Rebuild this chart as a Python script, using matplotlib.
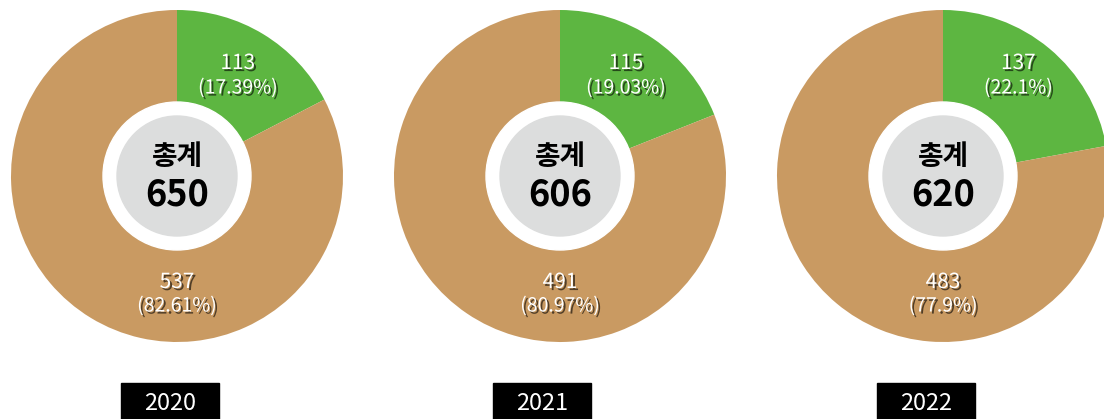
import matplotlib
matplotlib.use('Agg')
import matplotlib.pyplot as plt
import matplotlib.patheffects as pe
from matplotlib.patches import Circle, Rectangle
import numpy as np

plt.rcParams['font.family'] = ['Noto Sans CJK KR', 'DejaVu Sans']

# 데이터
years = ['2020', '2021', '2022']
totals = [650, 606, 620]
green_vals = [113, 115, 137]
tan_vals = [537, 491, 483]
green_pct = ['17.39%', '19.03%', '22.1%']
tan_pct = ['82.61%', '80.97%', '77.9%']

GREEN = '#5db641'
TAN = '#c99a62'
GRAY = '#dcdddd'

W, H = 1104, 419
fig = plt.figure(figsize=(W / 100, H / 100), dpi=100)
ax = fig.add_axes([0, 0, 1, 1])

cx_list = [177, 560, 943]
box_cx = [170, 542, 926]
cy = H - 176
R = 166

shadow = [pe.withSimplePatchShadow(offset=(1.5, -1.5), shadow_rgbFace='black', alpha=0.6)]

for i in range(3):
    cx = cx_list[i]
    ax.pie([green_vals[i], tan_vals[i]], colors=[GREEN, TAN], startangle=90,
           counterclock=False, center=(cx, cy), radius=R,
           wedgeprops=dict(linewidth=0), normalize=True)
    ax.add_patch(Circle((cx, cy), 74, color='white', zorder=3))
    ax.add_patch(Circle((cx, cy), 60, color=GRAY, zorder=4))

    # 초록 조각 라벨 (중간 각도 방향)
    frac = green_vals[i] / totals[i]
    ang = np.deg2rad(frac * 360 / 2)
    lx = cx + 121 * np.sin(ang) - 2
    ax.text(lx, H - 63, str(green_vals[i]), color='white', fontsize=15,
            ha='center', va='center', zorder=5, path_effects=shadow)
    ax.text(lx, H - 88, '(' + green_pct[i] + ')', color='white', fontsize=14,
            ha='center', va='center', zorder=5, path_effects=shadow)

    ax.text(cx, H - 282, str(tan_vals[i]), color='white', fontsize=15,
            ha='center', va='center', zorder=5, path_effects=shadow)
    ax.text(cx, H - 306, '(' + tan_pct[i] + ')', color='white', fontsize=14,
            ha='center', va='center', zorder=5, path_effects=shadow)

    ax.text(cx, H - 157, '총계', color='black', fontsize=20, fontweight='bold',
            ha='center', va='center', zorder=6)
    ax.text(cx, H - 195, str(totals[i]), color='black', fontsize=26, fontweight='bold',
            ha='center', va='center', zorder=6)

    bx = box_cx[i]
    ax.add_patch(Rectangle((bx - 49, 0), 98, H - 383, color='black', zorder=5))
    ax.text(bx, H - 403, years[i], color='white', fontsize=17,
            ha='center', va='center', zorder=6)

ax.set_xlim(0, W)
ax.set_ylim(0, H)
ax.set_aspect('auto')
ax.axis('off')

fig.savefig('out.png', dpi=100)
